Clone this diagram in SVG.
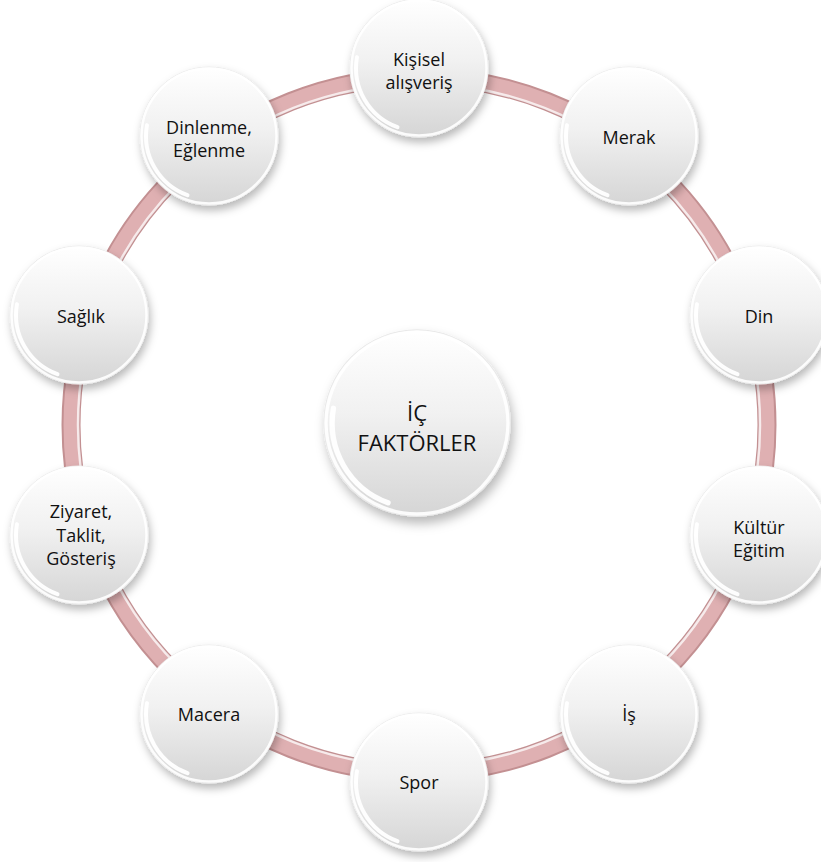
<svg xmlns="http://www.w3.org/2000/svg" xmlns:xlink="http://www.w3.org/1999/xlink" width="821" height="862" viewBox="0 0 821 862">
  <style>
    .lbl { font-family: "Open Sans", "Noto Sans", "DejaVu Sans", sans-serif; font-size: 18px; fill: #111; text-anchor: middle; }
    .ctr { font-size: 22px; }
  </style>
  <defs>
    <linearGradient id="face" x1="0" y1="0" x2="0" y2="1">
      <stop offset="0" stop-color="#ffffff"/>
      <stop offset="0.45" stop-color="#f1f1f1"/>
      <stop offset="1" stop-color="#d5d5d5"/>
    </linearGradient>
    <filter id="shadow" x="-30%" y="-30%" width="160%" height="170%">
      <feDropShadow dx="2" dy="5" stdDeviation="4" flood-color="#000" flood-opacity="0.28"/>
    </filter>
    <g id="btn">
      <circle r="69" fill="url(#face)" stroke="#e9e9e9" stroke-width="1" filter="url(#shadow)"/>
      <circle r="67.5" fill="none" stroke="#ffffff" stroke-width="2.5" opacity="0.9"/>
      <path d="M -21.5 59.2 A 63 63 0 0 1 -62 -10.9" fill="none" stroke="#ffffff" stroke-width="4" stroke-linecap="round" opacity="0.95"/>
    </g>
  </defs>

  <g id="connectors">
    <circle cx="419" cy="425" r="348" fill="none" stroke="#c39092" stroke-width="19"/>
    <circle cx="419" cy="425" r="348" fill="none" stroke="#dfb0b2" stroke-width="15"/>
    <circle cx="419" cy="425" r="341" fill="none" stroke="#ffffff" stroke-width="2.5" opacity="0.75"/>
  </g>

  <g id="node-center">
    <use xlink:href="#btn" transform="translate(417,423) scale(1.348)"/>
    <text class="lbl ctr" x="417" y="421">İÇ</text>
    <text class="lbl ctr" x="417" y="451">FAKTÖRLER</text>
  </g>

  <g id="node-kisisel">
    <use xlink:href="#btn" transform="translate(419,68)"/>
    <text class="lbl" x="419" y="66">Kişisel</text>
    <text class="lbl" x="419" y="89">alışveriş</text>
  </g>

  <g id="node-merak">
    <use xlink:href="#btn" transform="translate(629,136)"/>
    <text class="lbl" x="629" y="144">Merak</text>
  </g>

  <g id="node-din">
    <use xlink:href="#btn" transform="translate(759,315)"/>
    <text class="lbl" x="759" y="323">Din</text>
  </g>

  <g id="node-kultur">
    <use xlink:href="#btn" transform="translate(759,535)"/>
    <text class="lbl" x="759" y="534">Kültür</text>
    <text class="lbl" x="759" y="557">Eğitim</text>
  </g>

  <g id="node-is">
    <use xlink:href="#btn" transform="translate(629,714)"/>
    <text class="lbl" x="629" y="721">İş</text>
  </g>

  <g id="node-spor">
    <use xlink:href="#btn" transform="translate(419,782)"/>
    <text class="lbl" x="419" y="789">Spor</text>
  </g>

  <g id="node-macera">
    <use xlink:href="#btn" transform="translate(209,714)"/>
    <text class="lbl" x="209" y="721">Macera</text>
  </g>

  <g id="node-ziyaret">
    <use xlink:href="#btn" transform="translate(79,535)"/>
    <text class="lbl" x="81" y="518">Ziyaret,</text>
    <text class="lbl" x="81" y="542">Taklit,</text>
    <text class="lbl" x="81" y="565">Gösteriş</text>
  </g>

  <g id="node-saglik">
    <use xlink:href="#btn" transform="translate(79,315)"/>
    <text class="lbl" x="81" y="323">Sağlık</text>
  </g>

  <g id="node-dinlenme">
    <use xlink:href="#btn" transform="translate(209,136)"/>
    <text class="lbl" x="209" y="134">Dinlenme,</text>
    <text class="lbl" x="209" y="157">Eğlenme</text>
  </g>
</svg>
